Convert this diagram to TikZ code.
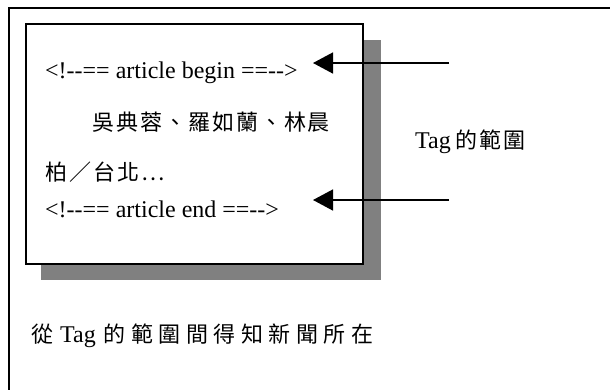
\documentclass[tikz,border=0pt]{standalone}
\usepackage{fontspec}
\setmainfont{Liberation Serif}[Ligatures=TeXOff]
\newfontfamily\cjk[LetterSpace=9]{Noto Sans CJK TC}
\newfontfamily\cjkwide[LetterSpace=25]{Noto Sans CJK TC}
\usetikzlibrary{arrows.meta}
\tikzset{
  frame/.style={line width=2pt, line cap=rect},
  shadowbox/.style={fill=black!50, draw=none},
  mainbox/.style={fill=white, draw=black, line width=1.5pt},
  txt/.style={anchor=base west, inner sep=0pt, font=\fontsize{24}{28}\selectfont},
  cjktxt/.style={anchor=base west, inner sep=0pt, font=\fontsize{22}{26}\selectfont\cjk},
  lbl/.style={anchor=base west, inner sep=0pt, font=\fontsize{24}{28}\selectfont}
  ,pointer/.style={line width=1.5pt, -{Triangle[length=20pt,width=21pt]}}
}
\begin{document}
\begin{tikzpicture}[x=1pt,y=-1pt]
\useasboundingbox (0,0) rectangle (610,389);
% outer frame (open at right and bottom)
\draw[frame] (8.5,400) -- (8.5,7.5) -- (620,7.5);
% shadow and box
\fill[shadowbox] (41,40) rectangle (381,280);
\draw[mainbox] (26,24) rectangle (363,264);
% texts in box
\node[txt] (l1) at (45,78) {<!--== article begin ==-->};
\node[cjktxt] (l2) at (92,130) {吳典蓉、羅如蘭、林晨};
\node[cjktxt] (l3) at (45,180) {柏／台北…};
\node[txt] (l4) at (45,217) {<!--== article end ==-->};
% label
\node[lbl] (tag) at (415,148) {Tag\hspace{5pt}{\cjk\fontsize{22}{26}\selectfont 的範圍}};
% arrows
\coordinate (s1) at (449,63);
\coordinate (e1) at (313,63);
\coordinate (s2) at (449,200);
\coordinate (e2) at (313,200);
\draw[pointer] (s1) -- (e1);
\draw[pointer] (s2) -- (e2);
% bottom note
\node[lbl] (note) at (31,342) {{\cjkwide\fontsize{22}{26}\selectfont 從}\hspace{7pt}Tag\hspace{8pt}{\cjkwide\fontsize{22}{26}\selectfont 的範圍間得知新聞所在}};
\end{tikzpicture}
\end{document}
